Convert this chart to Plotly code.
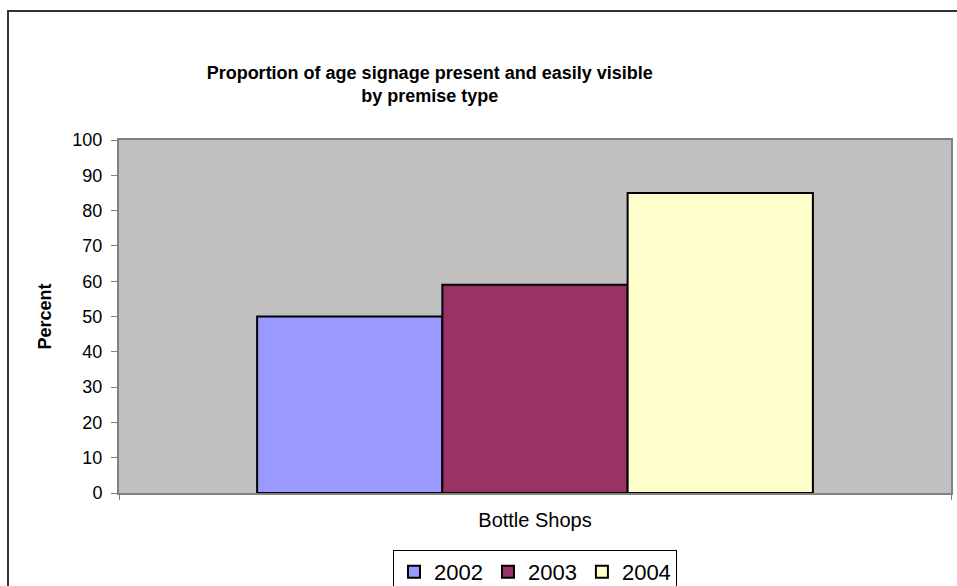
import plotly.graph_objects as go

categories = ["Bottle Shops"]
years = ["2002", "2003", "2004"]
values_2002 = [50]
values_2003 = [59]
values_2004 = [85]
colors = ["#9999FF", "#993366", "#FFFFCC"]
y_ticks = [0, 10, 20, 30, 40, 50, 60, 70, 80, 90, 100]

fig = go.Figure()
for name, vals, col in zip(years, [values_2002, values_2003, values_2004], colors):
    fig.add_trace(go.Bar(
        x=categories, y=vals, name=name,
        marker=dict(color=col, line=dict(color="#000000", width=2)),
    ))

fig.update_layout(
    width=957, height=586,
    margin=dict(l=119, r=6, t=140, b=93, autoexpand=False),
    paper_bgcolor="#FFFFFF",
    plot_bgcolor="#C0C0C0",
    barmode="group",
    bargap=0.332,
    bargroupgap=0,
    font=dict(family="Arial, Liberation Sans, sans-serif", color="#000000"),
    title=dict(
        text="<b>Proportion of age signage present and easily visible<br>by premise type</b>",
        x=0.449, xref="container", xanchor="center",
        y=0.866, yref="container", yanchor="middle",
        font=dict(size=18, color="#000000"),
    ),
    showlegend=True,
    legend=dict(
        orientation="h",
        x=0.5, xanchor="center", xref="paper",
        y=1 - 550 / 586, yanchor="top", yref="container",
        bordercolor="#000000", borderwidth=1,
        font=dict(size=22),
        itemwidth=30,
        traceorder="normal",
    ),
    xaxis=dict(
        showline=True, linecolor="#808080", linewidth=2, mirror=True,
        ticks="outside", tickson="boundaries", ticklen=5, tickcolor="#808080",
        tickfont=dict(size=20),
        ticklabelstandoff=8,
        showgrid=False,
    ),
    yaxis=dict(
        range=[0, 100],
        tickvals=y_ticks,
        showline=True, linecolor="#808080", linewidth=2, mirror=True,
        ticks="outside", ticklen=6, tickcolor="#808080",
        tickfont=dict(size=18),
        ticklabelstandoff=5,
        showgrid=False,
        zeroline=False,
        title=dict(text="<b>Percent</b>", font=dict(size=18), standoff=16),
    ),
    shapes=[dict(
        type="rect", xref="paper", yref="paper",
        x0=(8 - 119) / 832, x1=1.2, y0=-0.5, y1=(493 - 11) / 353,
        line=dict(color="#333333", width=2), fillcolor="rgba(0,0,0,0)",
        layer="above",
    )],
)

fig.write_html(
    "out.html",
    config={"displayModeBar": False},
    post_script="document.body.style.margin='0px';document.body.style.overflow='hidden';",
)
